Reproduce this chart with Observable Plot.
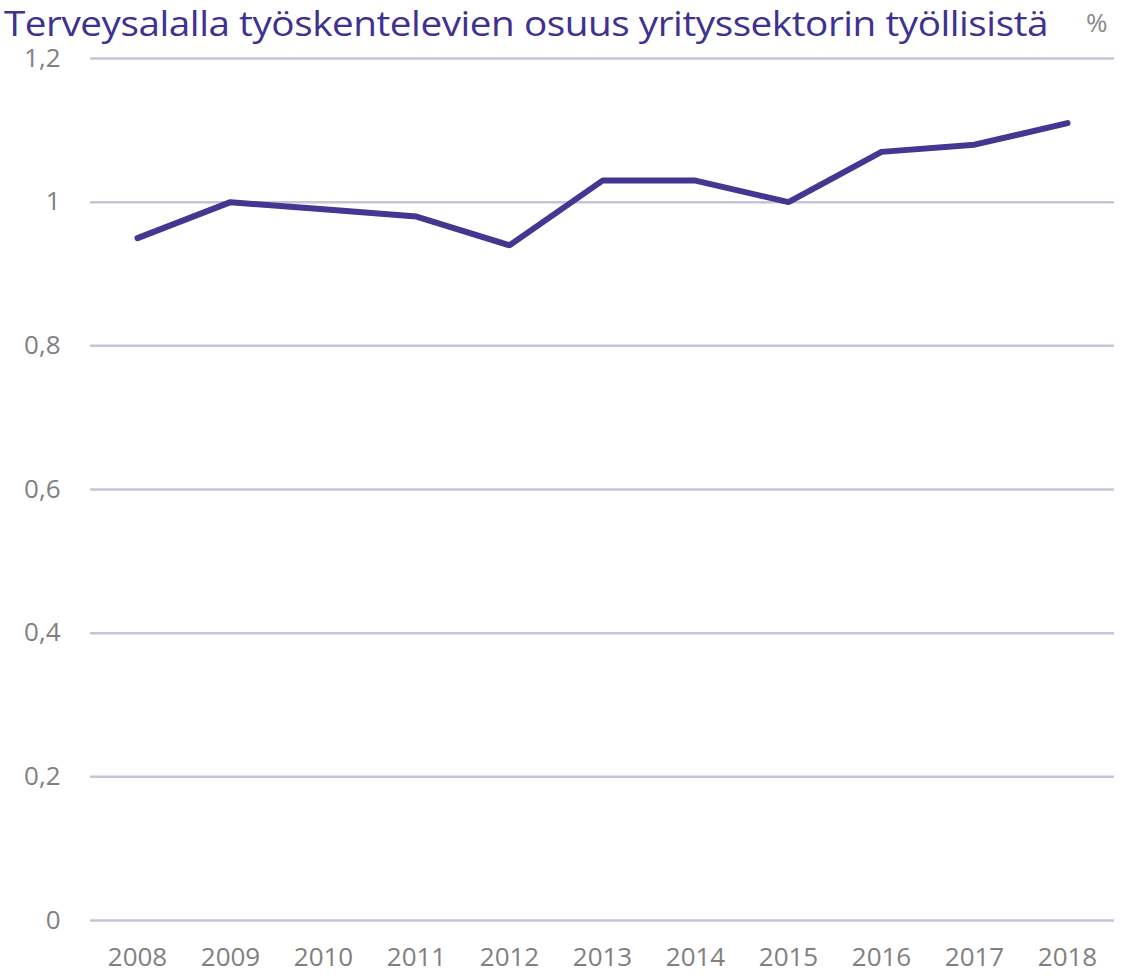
<!DOCTYPE html>
<html>
<head>
<meta charset="utf-8">
<script src="https://cdn.jsdelivr.net/npm/d3@7"></script>
<script src="https://cdn.jsdelivr.net/npm/@observablehq/plot@0.6"></script>
<style>
  html, body { margin: 0; padding: 0; background: #fff; }
  #wrap { position: relative; width: 1142px; height: 976px; }
  #title { position: absolute; left: 4px; top: 0px; font-family: "Open Sans", sans-serif; font-size: 34px; color: #3f3190; white-space: nowrap; letter-spacing: -0.4px; transform-origin: left top; }
  #unit { position: absolute; left: 1086px; top: 4px; font-family: "Open Sans", sans-serif; font-size: 26px; color: #8a8a8a; }
  #chart { position: absolute; left: 0; top: 0; }
</style>
</head>
<body>
<div id="wrap">
  <div id="chart"></div>
  <div id="title">Terveysalalla työskentelevien osuus yrityssektorin työllisistä</div>
  <div id="unit">%</div>
</div>
<script>
const years = ["2008","2009","2010","2011","2012","2013","2014","2015","2016","2017","2018"];
const shares = [0.95, 1.00, 0.99, 0.98, 0.94, 1.03, 1.03, 1.00, 1.07, 1.08, 1.11];
const yTicks = [0, 0.2, 0.4, 0.6, 0.8, 1, 1.2];

const data = years.map((y, i) => ({year: y, value: shares[i]}));

const chart = Plot.plot({
  width: 1142,
  height: 976,
  marginTop: 58,
  marginBottom: 56,
  marginLeft: 90,
  marginRight: 28,
  style: { fontFamily: "'Open Sans', sans-serif", background: "transparent" },
  x: { type: "point", domain: years, padding: 0.5, label: null },
  y: { domain: [0, 1.2], label: null },
  marks: [
    Plot.ruleY(yTicks, { stroke: "#c6c4d8", strokeWidth: 2.5 }),
    Plot.axisY(yTicks, { tickSize: 0, tickPadding: 30, fontSize: 26, fill: "#808080", tickFormat: d => String(d).replace(".", ","), label: null }),
    Plot.axisX({ tickSize: 0, tickPadding: 27, fontSize: 26, fill: "#808080", label: null }),
    Plot.line(data, { x: "year", y: "value", stroke: "#463591", strokeWidth: 6, strokeLinejoin: "miter", strokeLinecap: "round" })
  ]
});
document.getElementById("chart").appendChild(chart);

// fit title width to reference (~1045px)
const t = document.getElementById("title");
const w = t.getBoundingClientRect().width;
t.style.transform = `scaleX(${1044 / w})`;
</script>
</body>
</html>
